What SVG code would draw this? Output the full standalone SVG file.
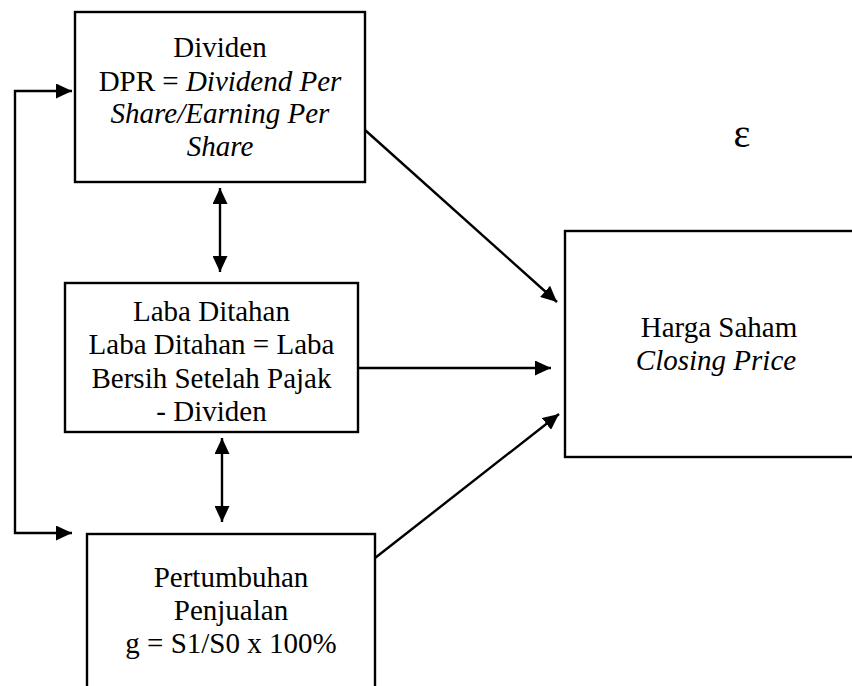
<svg xmlns="http://www.w3.org/2000/svg" width="852" height="686" viewBox="0 0 852 686">
<defs>
<style>
.box{fill:#fff;stroke:#000;stroke-width:2.4}
text{font-family:'Liberation Serif','Times New Roman','DejaVu Serif',serif;font-size:29px;fill:#000;text-anchor:middle}
.i{font-style:italic}
.c{fill:none;stroke:#000;stroke-width:2.4}
</style>
<marker id="ah" viewBox="0 0 16 15" refX="16" refY="7.5" markerWidth="16" markerHeight="15" markerUnits="userSpaceOnUse" orient="auto-start-reverse">
<path d="M0,0 L16,7.5 L0,15 z" fill="#000"/>
</marker>
</defs>
<rect width="852" height="686" fill="#fff"/>
<g id="connectors">
<polyline class="c" points="72,91 15,91 15,533 72,533" marker-start="url(#ah)" marker-end="url(#ah)"/>
<line class="c" x1="220" y1="188" x2="220" y2="272" marker-start="url(#ah)" marker-end="url(#ah)"/>
<line class="c" x1="222" y1="438" x2="222" y2="522" marker-start="url(#ah)" marker-end="url(#ah)"/>
<line class="c" x1="365" y1="130" x2="557" y2="302" marker-end="url(#ah)"/>
<line class="c" x1="358" y1="368" x2="551" y2="368" marker-end="url(#ah)"/>
<line class="c" x1="375" y1="558" x2="559" y2="414" marker-end="url(#ah)"/>
</g>
<g id="dividen" font-family="Liberation Serif, serif">
<rect class="box" x="75" y="12" width="290" height="170"/>
<text x="220" y="57">Dividen</text>
<text x="220" y="91">DPR = <tspan class="i">Dividend Per</tspan></text>
<text class="i" x="220" y="123">Share/Earning Per</text>
<text class="i" x="220" y="156">Share</text>
</g>
<g id="laba-ditahan">
<rect class="box" x="65" y="283" width="293" height="149"/>
<text x="211.5" y="321">Laba Ditahan</text>
<text x="211.5" y="354">Laba Ditahan = Laba</text>
<text x="211.5" y="388">Bersih Setelah Pajak</text>
<text x="211.5" y="421">- Dividen</text>
</g>
<g id="pertumbuhan">
<rect class="box" x="87" y="534" width="288" height="170"/>
<text x="231" y="587">Pertumbuhan</text>
<text x="231" y="620">Penjualan</text>
<text x="231" y="653">g = S1/S0 x 100%</text>
</g>
<g id="harga-saham">
<rect class="box" x="565" y="231" width="300" height="226"/>
<text x="719" y="337">Harga Saham</text>
<text class="i" x="716" y="370">Closing Price</text>
</g>
<g id="epsilon">
<text x="742" y="147" style="font-size:40px">ε</text>
</g>
</svg>
